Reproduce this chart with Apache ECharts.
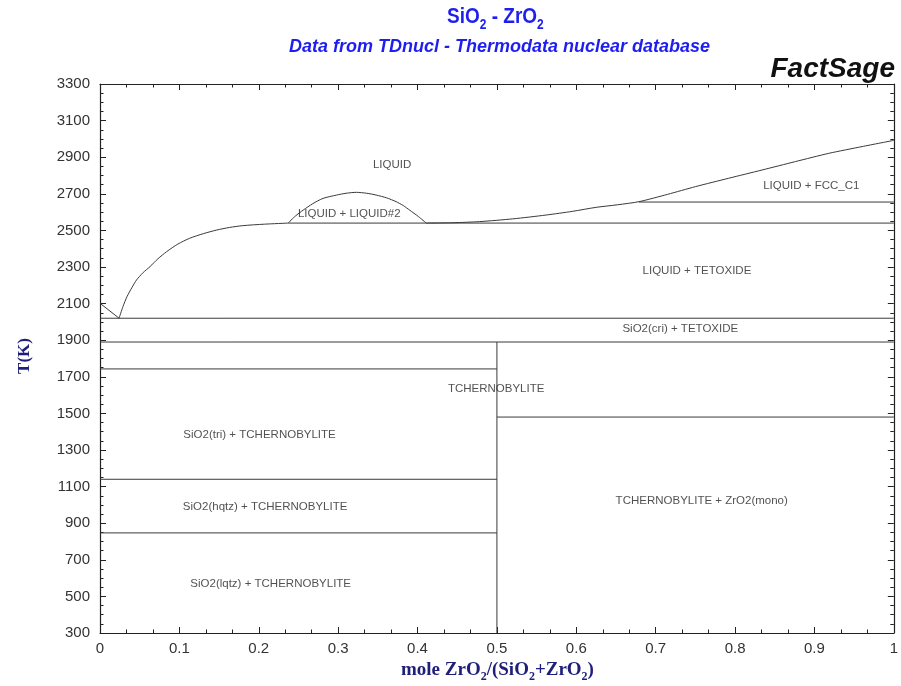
<!DOCTYPE html>
<html>
<head>
<meta charset="utf-8">
<script src="https://cdn.jsdelivr.net/npm/echarts@6/dist/echarts.min.js"></script>
<style>
  html, body { margin: 0; padding: 0; background: #fff; }
  #chart { width: 901px; height: 686px; }
</style>
</head>
<body>
<div id="chart"></div>
<script>
// SiO2 - ZrO2 phase diagram: composition (mole fraction ZrO2) vs temperature (K)

// Liquidus, silica side: pure SiO2 down to the eutectic
const liquidusSilicaEnd = [[0, 2102], [0.024, 2020]];
// Liquidus rising from the eutectic to the monotectic
const liquidusSilicaRich = [
  [0.024, 2020], [0.029, 2085], [0.034, 2138], [0.040, 2186], [0.046, 2229],
  [0.054, 2268], [0.063, 2302], [0.073, 2345], [0.084, 2384], [0.098, 2425],
  [0.113, 2457], [0.130, 2482], [0.147, 2502], [0.163, 2516], [0.180, 2526],
  [0.207, 2534], [0.237, 2540]
];
// Liquid miscibility gap dome
const miscibilityGap = [
  [0.237, 2540], [0.246, 2578], [0.256, 2611], [0.268, 2646], [0.281, 2675],
  [0.298, 2693], [0.310, 2703], [0.323, 2708], [0.336, 2703], [0.348, 2693],
  [0.361, 2678], [0.373, 2657], [0.382, 2636], [0.390, 2611], [0.401, 2576],
  [0.411, 2540]
];
// Liquidus towards pure ZrO2
const liquidusZirconiaRich = [
  [0.411, 2540], [0.445, 2542], [0.478, 2548], [0.520, 2563], [0.562, 2584],
  [0.595, 2604], [0.625, 2626], [0.652, 2640], [0.679, 2657], [0.715, 2697],
  [0.750, 2739], [0.792, 2785], [0.834, 2830], [0.876, 2876], [0.918, 2921],
  [0.960, 2958], [1.0, 2992]
];
// Invariant / transformation isotherms: [xStart, xEnd, T]
const isotherms = [
  [0.237, 1.0, 2540],
  [0.679, 1.0, 2655],
  [0.0, 1.0, 2020],
  [0.0, 1.0, 1890],
  [0.0, 0.5, 1743],
  [0.0, 0.5, 1140],
  [0.0, 0.5, 847],
  [0.5, 1.0, 1480]
];
// Zircon (TCHERNOBYLITE) composition line: [x, Tlow, Thigh]
const compoundLine = [0.5, 300, 1890];

// Phase field labels
const fieldNames = [
  'LIQUID', 'LIQUID + LIQUID#2', 'LIQUID + FCC_C1', 'LIQUID + TETOXIDE',
  'SiO2(cri) + TETOXIDE', 'TCHERNOBYLITE', 'SiO2(tri) + TCHERNOBYLITE',
  'SiO2(hqtz) + TCHERNOBYLITE', 'TCHERNOBYLITE + ZrO2(mono)',
  'SiO2(lqtz) + TCHERNOBYLITE'
];
const fieldX = [0.368, 0.314, 0.896, 0.752, 0.731, 0.499, 0.201, 0.208, 0.758, 0.215];
const fieldT = [2857, 2592, 2743, 2278, 1961, 1633, 1382, 989, 1021, 568];

const LINE = '#3a3a3a';
const NAVY = '#1f1f7a';
const BLUE = '#1e1ef0';
const SANS = '"Liberation Sans", Arial, sans-serif';
const SERIF = '"Liberation Serif", "Times New Roman", serif';

function lineSeries(data, smooth) {
  return {
    type: 'line', data: data, showSymbol: false, symbol: 'none',
    smooth: smooth ? 0.25 : false,
    lineStyle: { color: LINE, width: 1 }, silent: true, animation: false,
    xAxisIndex: 0, yAxisIndex: 0, z: 3
  };
}

const series = [
  lineSeries(liquidusSilicaEnd, false),
  lineSeries(liquidusSilicaRich, true),
  lineSeries(miscibilityGap, true),
  lineSeries(liquidusZirconiaRich, true)
];
isotherms.forEach(function (r) {
  series.push(lineSeries([[r[0], r[2]], [r[1], r[2]]], false));
});
series.push(lineSeries([[compoundLine[0], compoundLine[1]], [compoundLine[0], compoundLine[2]]], false));

series.push({
  type: 'scatter', silent: true, animation: false, z: 5,
  symbolSize: 1, itemStyle: { color: 'rgba(0,0,0,0)' },
  data: fieldNames.map(function (n, i) { return { name: n, value: [fieldX[i], fieldT[i]] }; }),
  label: {
    show: true, position: 'inside', formatter: function (p) { return p.name; },
    color: '#262626', fontSize: 11.5, fontFamily: SANS
  }
});

function axisLine() { return { show: true, onZero: false, lineStyle: { color: '#222', width: 1.2 } }; }
function majorTick() { return { show: true, inside: true, length: 6, lineStyle: { color: '#222', width: 1 } }; }
function minorTick(n) { return { show: true, splitNumber: n, length: 3.5, lineStyle: { color: '#222', width: 1 } }; }

function fmtX(v) {
  const r = Math.round(v * 10) / 10;
  return r === 0 ? '0' : (r === 1 ? '1' : r.toFixed(1));
}
function fmtY(v) { return String(Math.round(v)); }

const option = {
  backgroundColor: '#fff',
  animation: false,
  grid: { left: 100, top: 84, right: 6, bottom: 53, containLabel: false },
  xAxis: [
    { type: 'value', min: 0, max: 1, interval: 0.1, position: 'bottom',
      axisLine: axisLine(), axisTick: majorTick(), minorTick: minorTick(3),
      splitLine: { show: false },
      axisLabel: { margin: 8, formatter: fmtX, color: '#333', fontSize: 15, fontFamily: SANS } },
    { type: 'value', min: 0, max: 1, interval: 0.1, position: 'top',
      axisLine: axisLine(), axisTick: majorTick(), minorTick: minorTick(3),
      splitLine: { show: false }, axisLabel: { show: false } }
  ],
  yAxis: [
    { type: 'value', min: 300, max: 3300, interval: 200, position: 'left',
      axisLine: axisLine(), axisTick: majorTick(), minorTick: minorTick(4),
      splitLine: { show: false },
      axisLabel: { margin: 10, formatter: fmtY, color: '#333', fontSize: 15, fontFamily: SANS } },
    { type: 'value', min: 300, max: 3300, interval: 200, position: 'right',
      axisLine: axisLine(), axisTick: majorTick(), minorTick: minorTick(4),
      splitLine: { show: false }, axisLabel: { show: false } }
  ],
  graphic: [
    { type: 'text', left: 447, top: 5, z: 10, scaleY: 1.2,
      style: {
        text: '{m|SiO}{s|2}{m| - ZrO}{s|2}',
        rich: {
          m: { fontSize: 19, fontWeight: 'bold', fill: BLUE, fontFamily: SANS, lineHeight: 26 },
          s: { fontSize: 12, fontWeight: 'bold', fill: BLUE, fontFamily: SANS, lineHeight: 12, verticalAlign: 'bottom' }
        }
      } },
    { type: 'text', left: 289, top: 38, z: 10,
      style: {
        text: 'Data from TDnucl - Thermodata nuclear database',
        fill: BLUE, font: 'italic bold 18px ' + SANS
      } },
    { type: 'text', right: 6, top: 55, z: 10,
      style: {
        text: 'FactSage',
        fill: '#111', font: 'italic bold 28px ' + SANS
      } },
    { type: 'text', left: 16, top: 338, rotation: Math.PI / 2, z: 10,
      style: {
        text: 'T(K)',
        fill: NAVY, font: 'bold 17px ' + SERIF
      } },
    { type: 'text', left: 401, top: 661, z: 10,
      style: {
        text: '{m|mole ZrO}{s|2}{m|/(SiO}{s|2}{m|+ZrO}{s|2}{m|)}',
        rich: {
          m: { fontSize: 19, fontWeight: 'bold', fill: NAVY, fontFamily: SERIF, lineHeight: 25 },
          s: { fontSize: 12, fontWeight: 'bold', fill: NAVY, fontFamily: SERIF, lineHeight: 12, verticalAlign: 'bottom' }
        }
      } }
  ],
  series: series
};

const chart = echarts.init(document.getElementById('chart'), null, { renderer: 'canvas' });
chart.setOption(option);
</script>
</body>
</html>
